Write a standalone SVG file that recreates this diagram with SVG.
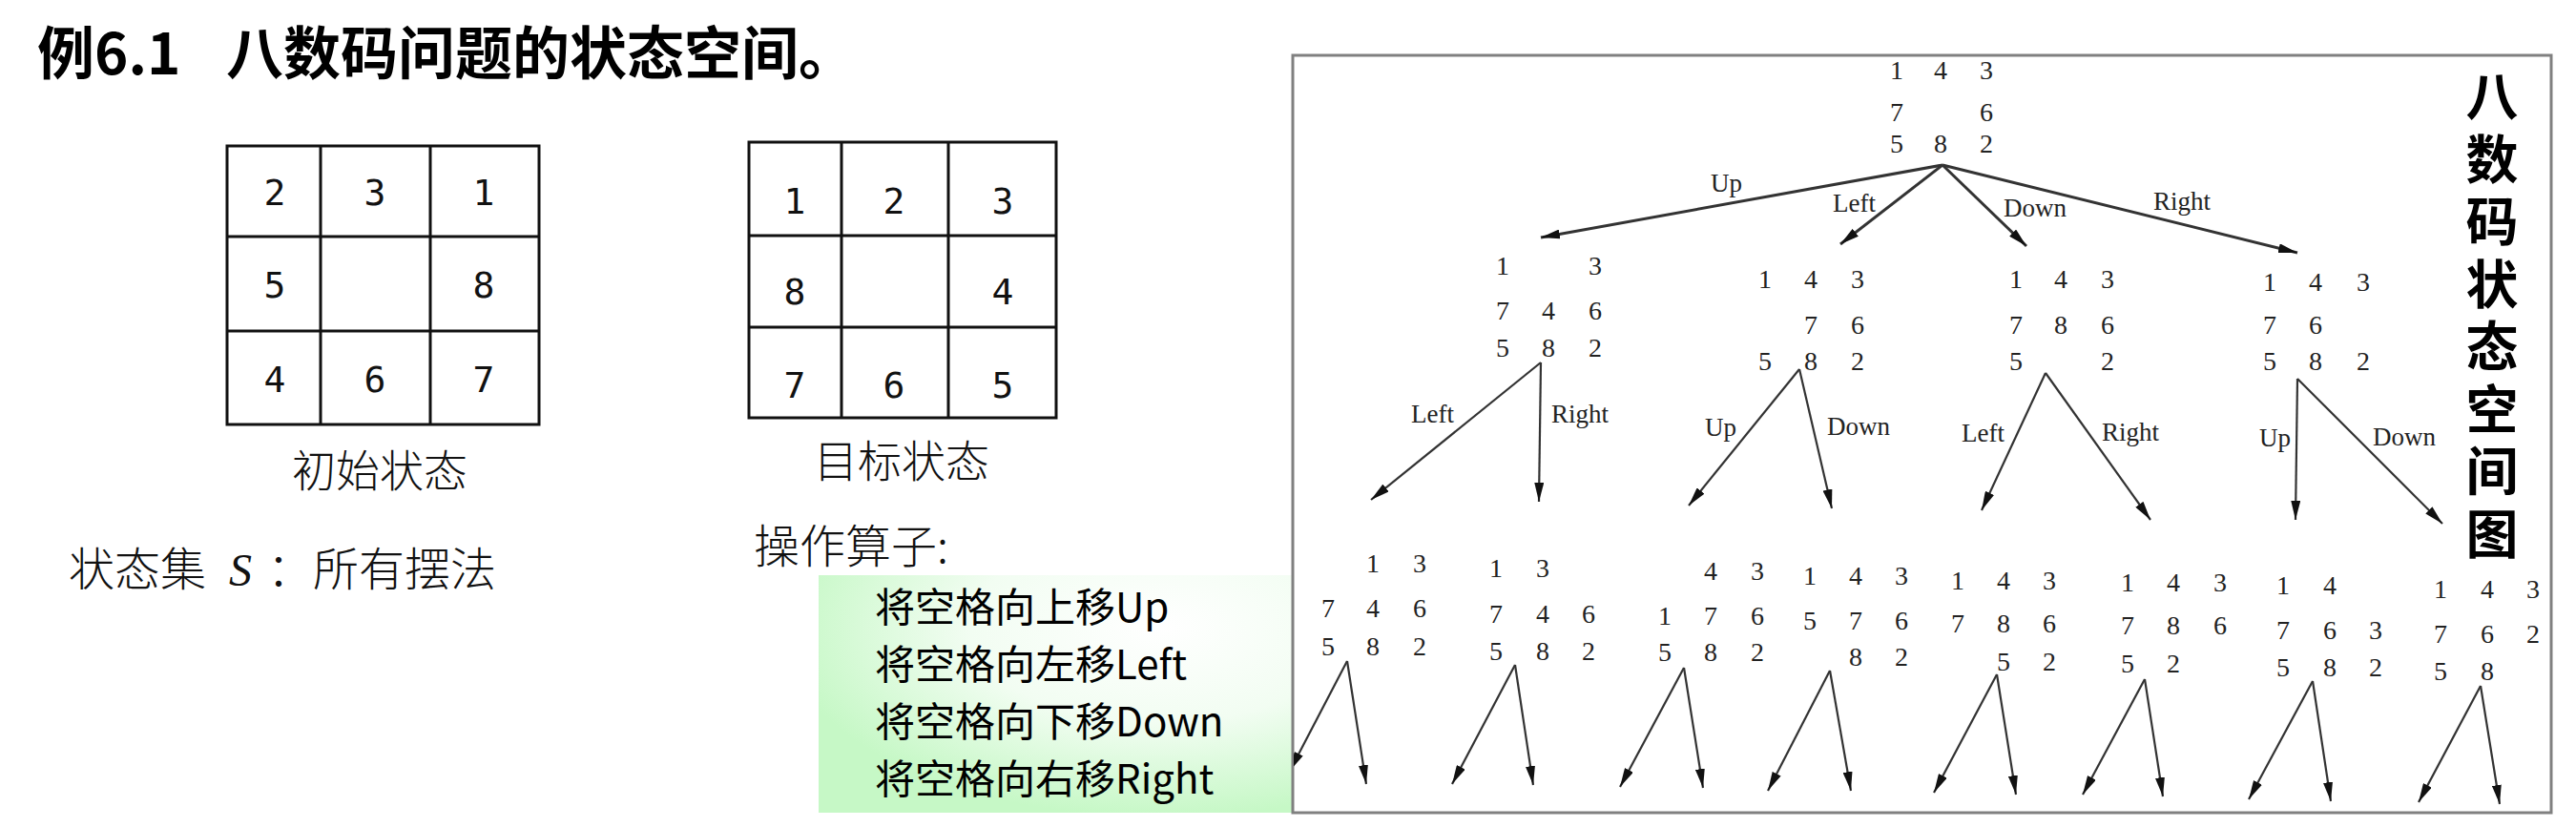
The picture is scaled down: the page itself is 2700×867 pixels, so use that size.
<svg xmlns="http://www.w3.org/2000/svg" width="2700" height="867" viewBox="0 0 2700 867">
<defs>
<style>
.title{font-family:"Noto Sans CJK SC","Noto Sans",sans-serif;font-weight:700;font-size:60px;fill:#000}
.side{font-family:"Noto Sans CJK SC","Noto Sans",sans-serif;font-weight:700;font-size:55px;fill:#000;writing-mode:vertical-rl;letter-spacing:10.5px}
.cap{font-family:"Noto Sans CJK SC","Noto Sans",sans-serif;font-weight:300;font-size:46px;fill:#111;text-anchor:middle}
.body{font-family:"Noto Sans CJK SC","Noto Sans",sans-serif;font-weight:300;font-size:48px;fill:#111}
.op{font-family:"Noto Sans CJK SC","Noto Sans",sans-serif;font-size:42px;fill:#000}
.gd{font-family:"DejaVu Sans Mono","Liberation Mono",monospace;font-size:38px;fill:#111;text-anchor:middle}
.num{font-family:"Liberation Serif","Times New Roman",serif;font-size:28px;fill:#222;text-anchor:middle}
.lbl{font-family:"Liberation Serif","Times New Roman",serif;font-size:27px;fill:#222}
.cell{fill:none;stroke:#111;stroke-width:3}
.edge{fill:none;stroke:#333;stroke-width:2.2;marker-end:url(#ah)}
.edge0{fill:none;stroke:#333;stroke-width:3;marker-end:url(#ah)}
</style>
<marker id="ah" markerUnits="userSpaceOnUse" markerWidth="20" markerHeight="10" refX="20" refY="5" orient="auto">
<path d="M0,0 L20,5 L0,10 z" fill="#111"/>
</marker>
<radialGradient id="gg" cx="0.72" cy="0.22" r="0.8" fx="0.72" fy="0.22">
<stop offset="0" stop-color="#ffffff"/>
<stop offset="0.5" stop-color="#f2fdf2"/>
<stop offset="1" stop-color="#c6f8c6"/>
</radialGradient>
<clipPath id="boxclip"><rect x="1356" y="59" width="1317" height="792"/></clipPath>
</defs>
<rect x="0" y="0" width="2700" height="867" fill="#fff"/>

<g id="title"><text class="title" y="78"><tspan x="39">例6.1</tspan><tspan x="237">八数码问题的状态空间。</tspan></text></g>

<g id="initial-state">
<rect class="cell" x="238" y="153" width="327" height="292"/>
<line class="cell" x1="336" y1="153" x2="336" y2="445"/>
<line class="cell" x1="451" y1="153" x2="451" y2="445"/>
<line class="cell" x1="238" y1="248" x2="565" y2="248"/>
<line class="cell" x1="238" y1="347" x2="565" y2="347"/>
<text class="gd" y="215"><tspan x="288">2</tspan><tspan x="393">3</tspan><tspan x="507">1</tspan></text>
<text class="gd" y="312"><tspan x="288">5</tspan><tspan x="507">8</tspan></text>
<text class="gd" y="411"><tspan x="288">4</tspan><tspan x="393">6</tspan><tspan x="507">7</tspan></text>
<text class="cap" x="398" y="510">初始状态</text>
</g>

<g id="goal-state">
<rect class="cell" x="785" y="149" width="322" height="289"/>
<line class="cell" x1="882" y1="149" x2="882" y2="438"/>
<line class="cell" x1="994" y1="149" x2="994" y2="438"/>
<line class="cell" x1="785" y1="247" x2="1107" y2="247"/>
<line class="cell" x1="785" y1="343" x2="1107" y2="343"/>
<text class="gd" y="224"><tspan x="833">1</tspan><tspan x="937">2</tspan><tspan x="1051">3</tspan></text>
<text class="gd" y="319"><tspan x="833">8</tspan><tspan x="1051">4</tspan></text>
<text class="gd" y="417"><tspan x="833">7</tspan><tspan x="937">6</tspan><tspan x="1051">5</tspan></text>
<text class="cap" x="945" y="500">目标状态</text>
</g>

<g id="state-set">
<text class="body" y="614"><tspan x="72">状态集</tspan><tspan x="240" font-family="Liberation Serif,serif" font-style="italic">S</tspan><tspan x="280">：所有摆法</tspan></text>
</g>

<g id="operators">
<text class="body" x="790" y="590">操作算子:</text>
<rect x="858" y="603" width="497" height="249" fill="url(#gg)"/>
<text class="op" x="917" y="652">将空格向上移Up</text>
<text class="op" x="917" y="712">将空格向左移Left</text>
<text class="op" x="917" y="772">将空格向下移Down</text>
<text class="op" x="917" y="832">将空格向右移Right</text>
</g>

<g id="state-space-frame">
<rect x="1355" y="58" width="1319" height="794" fill="none" stroke="#808080" stroke-width="3"/>
</g>

<g id="side-title">
<text class="side" x="2612" y="73">八数码状态空间图</text>
</g>

<g id="connectors" clip-path="url(#boxclip)">
<line class="edge0" x1="2036" y1="173" x2="1615" y2="249"/>
<line class="edge0" x1="2036" y1="173" x2="1929" y2="256"/>
<line class="edge0" x1="2036" y1="173" x2="2124" y2="258"/>
<line class="edge0" x1="2036" y1="173" x2="2408" y2="265"/>
<line class="edge" x1="1615" y1="380" x2="1437" y2="524"/>
<line class="edge" x1="1615" y1="380" x2="1613" y2="526"/>
<line class="edge" x1="1886" y1="387" x2="1770" y2="530"/>
<line class="edge" x1="1886" y1="387" x2="1920" y2="533"/>
<line class="edge" x1="2144" y1="391" x2="2077" y2="535"/>
<line class="edge" x1="2144" y1="391" x2="2254" y2="545"/>
<line class="edge" x1="2408" y1="397" x2="2406" y2="545"/>
<line class="edge" x1="2408" y1="397" x2="2560" y2="549"/>
<line class="edge" x1="1412" y1="693" x2="1352" y2="808"/>
<line class="edge" x1="1412" y1="693" x2="1432" y2="822"/>
<line class="edge" x1="1588" y1="697" x2="1522" y2="822"/>
<line class="edge" x1="1588" y1="697" x2="1607" y2="823"/>
<line class="edge" x1="1765" y1="700" x2="1698" y2="825"/>
<line class="edge" x1="1765" y1="700" x2="1785" y2="826"/>
<line class="edge" x1="1918" y1="703" x2="1853" y2="829"/>
<line class="edge" x1="1918" y1="703" x2="1940" y2="829"/>
<line class="edge" x1="2093" y1="707" x2="2027" y2="831"/>
<line class="edge" x1="2093" y1="707" x2="2113" y2="833"/>
<line class="edge" x1="2248" y1="712" x2="2183" y2="833"/>
<line class="edge" x1="2248" y1="712" x2="2267" y2="835"/>
<line class="edge" x1="2424" y1="714" x2="2357" y2="838"/>
<line class="edge" x1="2424" y1="714" x2="2443" y2="840"/>
<line class="edge" x1="2600" y1="719" x2="2535" y2="841"/>
<line class="edge" x1="2600" y1="719" x2="2620" y2="843"/>
<text class="lbl" x="1793" y="201">Up</text>
<text class="lbl" x="1921" y="222">Left</text>
<text class="lbl" x="2100" y="227">Down</text>
<text class="lbl" x="2257" y="220">Right</text>
<text class="lbl" x="1479" y="443">Left</text>
<text class="lbl" x="1626" y="443">Right</text>
<text class="lbl" x="1787" y="457">Up</text>
<text class="lbl" x="1915" y="456">Down</text>
<text class="lbl" x="2056" y="463">Left</text>
<text class="lbl" x="2203" y="462">Right</text>
<text class="lbl" x="2368" y="468">Up</text>
<text class="lbl" x="2487" y="467">Down</text>
</g>

<g id="n-root">
<text class="num" y="83"><tspan x="1988">1</tspan><tspan x="2034">4</tspan><tspan x="2082">3</tspan></text>
<text class="num" y="127"><tspan x="1988">7</tspan><tspan x="2082">6</tspan></text>
<text class="num" y="160"><tspan x="1988">5</tspan><tspan x="2034">8</tspan><tspan x="2082">2</tspan></text>
</g>
<g id="n-up">
<text class="num" y="288"><tspan x="1575">1</tspan><tspan x="1672">3</tspan></text>
<text class="num" y="335"><tspan x="1575">7</tspan><tspan x="1623">4</tspan><tspan x="1672">6</tspan></text>
<text class="num" y="374"><tspan x="1575">5</tspan><tspan x="1623">8</tspan><tspan x="1672">2</tspan></text>
</g>
<g id="n-left">
<text class="num" y="302"><tspan x="1850">1</tspan><tspan x="1898">4</tspan><tspan x="1947">3</tspan></text>
<text class="num" y="350"><tspan x="1898">7</tspan><tspan x="1947">6</tspan></text>
<text class="num" y="388"><tspan x="1850">5</tspan><tspan x="1898">8</tspan><tspan x="1947">2</tspan></text>
</g>
<g id="n-down">
<text class="num" y="302"><tspan x="2113">1</tspan><tspan x="2160">4</tspan><tspan x="2209">3</tspan></text>
<text class="num" y="350"><tspan x="2113">7</tspan><tspan x="2160">8</tspan><tspan x="2209">6</tspan></text>
<text class="num" y="388"><tspan x="2113">5</tspan><tspan x="2209">2</tspan></text>
</g>
<g id="n-right">
<text class="num" y="305"><tspan x="2379">1</tspan><tspan x="2427">4</tspan><tspan x="2477">3</tspan></text>
<text class="num" y="350"><tspan x="2379">7</tspan><tspan x="2427">6</tspan></text>
<text class="num" y="388"><tspan x="2379">5</tspan><tspan x="2427">8</tspan><tspan x="2477">2</tspan></text>
</g>
<g id="n-up-left">
<text class="num" y="600"><tspan x="1439">1</tspan><tspan x="1488">3</tspan></text>
<text class="num" y="647"><tspan x="1392">7</tspan><tspan x="1439">4</tspan><tspan x="1488">6</tspan></text>
<text class="num" y="687"><tspan x="1392">5</tspan><tspan x="1439">8</tspan><tspan x="1488">2</tspan></text>
</g>
<g id="n-up-right">
<text class="num" y="605"><tspan x="1568">1</tspan><tspan x="1617">3</tspan></text>
<text class="num" y="653"><tspan x="1568">7</tspan><tspan x="1617">4</tspan><tspan x="1665">6</tspan></text>
<text class="num" y="692"><tspan x="1568">5</tspan><tspan x="1617">8</tspan><tspan x="1665">2</tspan></text>
</g>
<g id="n-left-up">
<text class="num" y="608"><tspan x="1793">4</tspan><tspan x="1842">3</tspan></text>
<text class="num" y="655"><tspan x="1745">1</tspan><tspan x="1793">7</tspan><tspan x="1842">6</tspan></text>
<text class="num" y="693"><tspan x="1745">5</tspan><tspan x="1793">8</tspan><tspan x="1842">2</tspan></text>
</g>
<g id="n-left-down">
<text class="num" y="613"><tspan x="1897">1</tspan><tspan x="1945">4</tspan><tspan x="1993">3</tspan></text>
<text class="num" y="660"><tspan x="1897">5</tspan><tspan x="1945">7</tspan><tspan x="1993">6</tspan></text>
<text class="num" y="698"><tspan x="1945">8</tspan><tspan x="1993">2</tspan></text>
</g>
<g id="n-down-left">
<text class="num" y="618"><tspan x="2052">1</tspan><tspan x="2100">4</tspan><tspan x="2148">3</tspan></text>
<text class="num" y="663"><tspan x="2052">7</tspan><tspan x="2100">8</tspan><tspan x="2148">6</tspan></text>
<text class="num" y="703"><tspan x="2100">5</tspan><tspan x="2148">2</tspan></text>
</g>
<g id="n-down-right">
<text class="num" y="620"><tspan x="2230">1</tspan><tspan x="2278">4</tspan><tspan x="2327">3</tspan></text>
<text class="num" y="665"><tspan x="2230">7</tspan><tspan x="2278">8</tspan><tspan x="2327">6</tspan></text>
<text class="num" y="705"><tspan x="2230">5</tspan><tspan x="2278">2</tspan></text>
</g>
<g id="n-right-up">
<text class="num" y="623"><tspan x="2393">1</tspan><tspan x="2442">4</tspan></text>
<text class="num" y="670"><tspan x="2393">7</tspan><tspan x="2442">6</tspan><tspan x="2490">3</tspan></text>
<text class="num" y="709"><tspan x="2393">5</tspan><tspan x="2442">8</tspan><tspan x="2490">2</tspan></text>
</g>
<g id="n-right-down">
<text class="num" y="627"><tspan x="2558">1</tspan><tspan x="2607">4</tspan><tspan x="2655">3</tspan></text>
<text class="num" y="674"><tspan x="2558">7</tspan><tspan x="2607">6</tspan><tspan x="2655">2</tspan></text>
<text class="num" y="713"><tspan x="2558">5</tspan><tspan x="2607">8</tspan></text>
</g>
</svg>
